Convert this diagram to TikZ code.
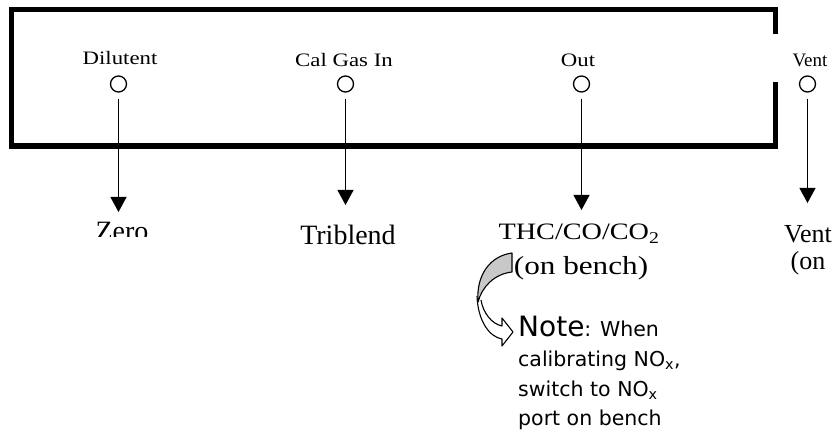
\documentclass[tikz,border=0pt]{standalone}
\usepackage{fontspec}
\setmainfont{Liberation Serif}
\newfontfamily\palfont{Liberation Serif}[FakeStretch=1.2]
\newfontfamily\notefont{DejaVu Sans}
\usepackage{xcolor}
\usepackage{tikz}
\usetikzlibrary{arrows.meta}
\definecolor{grisclair}{HTML}{C8C8C8}
\tikzset{
  boitier/.style={line width=5.5pt},
  port/.style={circle, draw, line width=1.3pt, minimum size=16pt, inner sep=0pt},
  etiquette/.style={font=\palfont\fontsize{19}{22}\selectfont, anchor=base, inner sep=0pt},
  sortie/.style={font=\fontsize{28}{30}\selectfont, anchor=base, inner sep=0pt},
  fleche/.style={-{Triangle[length=15pt, width=16pt]}, line width=1.1pt, shorten <=6pt},
  remarque/.style={font=\notefont\fontsize{20.5}{24}\selectfont, anchor=base west, inner sep=0pt},
  courbe/.style={draw, line width=1.1pt, line join=round}
}
\begin{document}
\begin{tikzpicture}[x=1pt, y=-1pt]
    \useasboundingbox (0,0) rectangle (835,435);

    % Boitier
    \draw[boitier] (775.5,34) -- (775.5,9.5) -- (11.5,9.5) -- (11.5,146) -- (775.5,146) -- (775.5,82);

    % Raccords
    \node[port] (dil) at (118.5,84) {};
    \node[port] (cal) at (345.5,84) {};
    \node[port] (out) at (581.5,84) {};
    \node[port] (vent) at (807.5,84) {};

    \node[etiquette] (dillab) at (120,65) {Dilutent};
    \node[etiquette] (callab) at (344,66.5) {Cal Gas In};
    \node[etiquette] (outlab) at (578,66.5) {Out};
    \node[font=\fontsize{19}{22}\selectfont, anchor=base, inner sep=0pt] (ventlab) at (810,66.5) {Vent};

    % Destinations
    \coordinate (dilbout) at (118.5,212);
    \coordinate (calbout) at (345.5,205);
    \coordinate (outbout) at (581.5,210);
    \coordinate (ventbout) at (807.5,203);
    \foreach \n in {dil, cal, out, vent} { \draw[fleche] (\n) -- (\n bout); }

    \begin{scope}
      \clip (60,200) rectangle (180,237);
      \node[sortie] (zero) at (122,241) {Zero};
    \end{scope}
    \node[sortie] (tri) at (348,245) {Triblend};
    \node[etiquette, font=\palfont\fontsize{23.5}{26}\selectfont] (thc) at (579,240) {THC/CO/CO\textsubscript{2}};
    \node[etiquette, font=\palfont\fontsize{26}{28}\selectfont] (banc) at (581,275) {(on bench)};
    \node[sortie, font=\fontsize{26}{28}\selectfont] (ventsortie) at (808,243) {Vent};
    \node[sortie, font=\fontsize{26}{28}\selectfont] (ventbanc) at (808,270) {(on};

    % Fleche courbe
    \draw[courbe, fill=white] (477,296) .. controls (478,322) and (490,337) .. (502,339)
      -- (502,346) -- (513,332) -- (502,318) -- (502,326)
      .. controls (492,324) and (483,313) .. (481,300);
    \draw[courbe, fill=grisclair] (512,253) .. controls (490,256) and (476,275) .. (478,302)
      .. controls (482,287) and (494,274) .. (512,272) -- cycle;

    % Remarque
    \node[remarque] (note1) at (518,337) {{\fontsize{28}{30}\selectfont Note}: When};
    \node[remarque] (note2) at (518,366.5) {calibrating NO\textsubscript{x},};
    \node[remarque] (note3) at (518,396) {switch to NO\textsubscript{x}};
    \node[remarque] (note4) at (518,425.5) {port on bench};
\end{tikzpicture}
\end{document}
